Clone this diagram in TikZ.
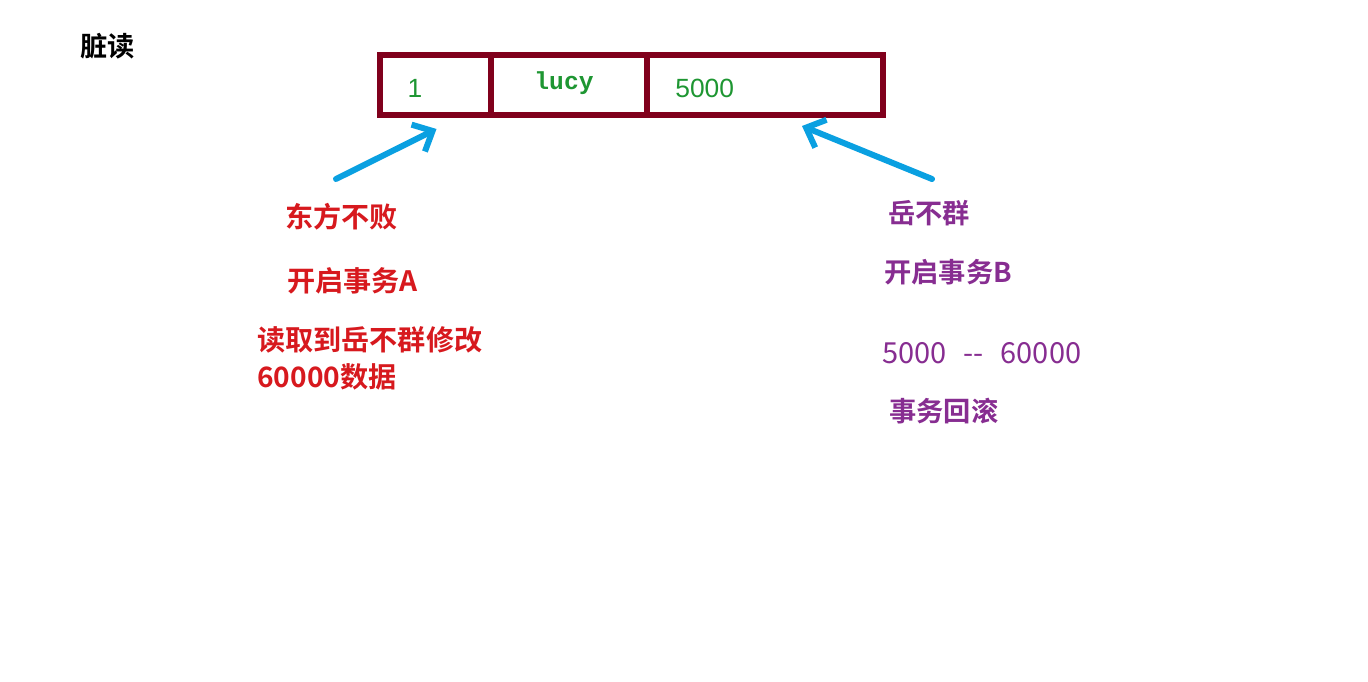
\documentclass[tikz,border=0pt]{standalone}
\usepackage{fontspec}
\setmainfont{Liberation Sans}
\newfontfamily\cjk{Noto Sans CJK SC}
\newfontfamily\cjkbold{Noto Sans CJK SC Bold}
\newfontfamily\monofont{Liberation Mono}
\usetikzlibrary{arrows.meta,positioning}
\definecolor{DRborder}{RGB}{128,0,28}
\definecolor{DRgreen}{RGB}{30,150,50}
\definecolor{DRblue}{RGB}{10,160,225}
\definecolor{DRred}{RGB}{215,25,30}
\definecolor{DRpurple}{RGB}{135,45,145}
\tikzset{
  cell/.style={draw=DRborder,line width=0.12cm,minimum height=1.2cm,inner sep=0pt},
  val/.style={text=DRgreen,font=\fontsize{15}{18}\selectfont},
  pt/.style={-{Straight Barb[length=0.32cm,width=0.6cm]},line width=0.12cm,draw=DRblue,line cap=round},
  txa/.style={text=DRred,font=\cjkbold\fontsize{16}{21}\selectfont,anchor=west,inner sep=0pt},
  txb/.style={text=DRpurple,font=\cjkbold\fontsize{15.5}{20}\selectfont,anchor=west,inner sep=0pt}
}
\begin{document}
\begin{tikzpicture}[x=0.02cm,y=-0.02cm]
  \useasboundingbox[fill=white] (0,0) rectangle (1368,682);
  \node[anchor=west,inner sep=0pt,font=\cjkbold\fontsize{15.5}{18}\selectfont] (title) at (80,46) {脏读};
  % record row
  \node[cell,minimum width=2.22cm] (cellid) at (435.5,85) {};
  \node[cell,minimum width=3.12cm] (cellname) at (569,85) {};
  \node[cell,minimum width=4.72cm] (cellsal) at (765,85) {};
  \node[val] (vid) at (415,88) {1};
  \node[val,font=\monofont\bfseries\fontsize{14}{16}\selectfont] (vname) at (564,83) {lucy};
  \node[val,anchor=west,inner sep=0pt] (vsal) at (675,88) {5000};
  % pointers
  \coordinate (tailA) at (336,179);
  \coordinate (tailB) at (932,179);
  \draw[pt] (tailA) -- ([shift={(1,11)}]cellid.south);
  \draw[pt] (tailB) -- ([shift={(37,8)}]cellsal.south);
  % transaction A
  \node[txa] (usrA) at (285,217) {东方不败};
  \node[txa] (openA) at (287,281) {开启事务A};
  \node[txa,align=left,anchor=north west,font=\cjkbold\fontsize{16}{21}\selectfont] (readA) at (257,326) {读取到岳不群修改\\60000数据};
  % transaction B
  \node[txb] (usrB) at (888,213) {岳不群};
  \node[txb] (openB) at (884,272) {开启事务B};
  \node[txb,font=\cjk\fontsize{16.5}{20}\selectfont] (updB) at (882,353) {5000\hspace{0.34cm}-{}-\hspace{0.34cm}60000};
  \node[txb] (rollB) at (889,411) {事务回滚};
\end{tikzpicture}
\end{document}
